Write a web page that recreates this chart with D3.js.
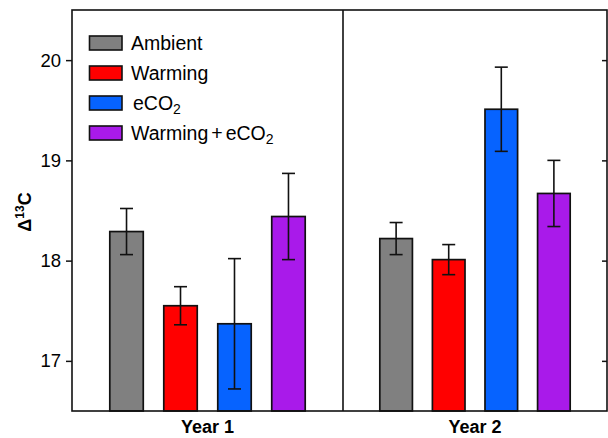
<!DOCTYPE html>
<html><head><meta charset="utf-8">
<script src="https://cdn.jsdelivr.net/npm/d3@7/dist/d3.min.js"></script>
<style>body{margin:0;background:#fff}svg{display:block}text{font-family:"Liberation Sans",Arial,sans-serif;fill:#000}</style>
</head><body>
<svg id="c" width="608" height="438"></svg>
<script>
const years = ["Year 1", "Year 2"];
const treatments = ["Ambient", "Warming", "eCO2", "Warming + eCO2"];
const colors = ["#808080", "#ff0000", "#0663ff", "#a91aea"];
const year1Values = [18.29, 17.55, 17.37, 18.44];
const year1Errors = [0.23, 0.19, 0.65, 0.43];
const year2Values = [18.22, 18.01, 19.51, 18.67];
const year2Errors = [0.16, 0.15, 0.42, 0.33];
const yTicks = [17, 18, 19, 20];

const svg = d3.select("#c");
const L = 72, R = 607, T = 10, B = 411, MID = 343;
const y = d3.scaleLinear().domain([16.5, 20.5]).range([B, T]);
const panels = [[L, MID], [MID, R]];
const values = [year1Values, year2Values];
const errors = [year1Errors, year2Errors];

years.forEach((yr, gi) => {
  const x = d3.scaleBand().domain(treatments).range(panels[gi]).paddingInner(0.38).paddingOuter(0.7);
  const g = svg.append("g");
  const data = treatments.map((t, i) => ({t, v: values[gi][i], e: errors[gi][i], c: colors[i]}));
  g.selectAll("rect").data(data).join("rect")
    .attr("x", d => x(d.t)).attr("width", x.bandwidth())
    .attr("y", d => y(d.v)).attr("height", d => B - y(d.v))
    .attr("fill", d => d.c).attr("stroke", "#111").attr("stroke-width", 1.7);
  const cap = 6.5;
  data.forEach(d => {
    const cx = x(d.t) + x.bandwidth() / 2;
    g.append("line").attr("x1", cx).attr("x2", cx).attr("y1", y(d.v + d.e)).attr("y2", y(d.v - d.e)).attr("stroke", "#111").attr("stroke-width", 1.6);
    [d.v + d.e, d.v - d.e].forEach(v => g.append("line").attr("x1", cx - cap).attr("x2", cx + cap).attr("y1", y(v)).attr("y2", y(v)).attr("stroke", "#111").attr("stroke-width", 1.6));
  });
  svg.append("text").attr("x", (panels[gi][0] + panels[gi][1]) / 2).attr("y", 433)
    .attr("text-anchor", "middle").attr("font-weight", "bold").attr("font-size", 18).text(yr);
});

svg.append("rect").attr("x", L).attr("y", T).attr("width", R - L).attr("height", B - T)
  .attr("fill", "none").attr("stroke", "#111").attr("stroke-width", 1.6);
svg.append("line").attr("x1", MID).attr("x2", MID).attr("y1", T).attr("y2", B).attr("stroke", "#111").attr("stroke-width", 1.6);

const ya = svg.append("g").attr("transform", `translate(${L},0)`)
  .call(d3.axisLeft(y).tickValues(yTicks).tickSize(6).tickPadding(5).tickFormat(d3.format("d")));
ya.select(".domain").remove();
ya.selectAll("line").attr("stroke", "#111").attr("stroke-width", 1.5);
ya.selectAll("text").attr("font-size", 18.5).style("font-family", '"Liberation Sans",Arial,sans-serif').attr("fill", "#000");
const yr = svg.append("g").attr("transform", `translate(${R},0)`)
  .call(d3.axisRight(y).tickValues(yTicks).tickSize(-5).tickFormat(""));
yr.select(".domain").remove();
yr.selectAll("line").attr("stroke", "#111").attr("stroke-width", 1.5);

const yl = svg.append("text").attr("transform", "translate(31,212) rotate(-90)")
  .attr("text-anchor", "middle").attr("font-weight", "bold").attr("font-size", 18);
yl.append("tspan").text("Δ");
yl.append("tspan").attr("font-size", 12).attr("dy", -7).text("13");
yl.append("tspan").attr("dy", 7).text("C");

const lg = svg.append("g");
treatments.forEach((t, i) => {
  const cy = 43 + i * 30;
  lg.append("rect").attr("x", 89.5).attr("y", cy - 7).attr("width", 32.5).attr("height", 14)
    .attr("fill", colors[i]).attr("stroke", "#111").attr("stroke-width", 1.6);
  const tx = lg.append("text").attr("x", 131).attr("y", cy + 7).attr("font-size", 19.5);
  if (t === "eCO2") {
    tx.attr("x", 133);
    tx.append("tspan").text("eCO");
    tx.append("tspan").attr("font-size", 14).attr("dy", 4).text("2");
  } else if (t === "Warming + eCO2") {
    tx.append("tspan").text("Warming");
    tx.append("tspan").attr("dx", 3).text("+");
    tx.append("tspan").attr("dx", 3).text("eCO");
    tx.append("tspan").attr("font-size", 14).attr("dy", 4).text("2");
  } else {
    tx.text(t);
  }
});
</script>
</body></html>
